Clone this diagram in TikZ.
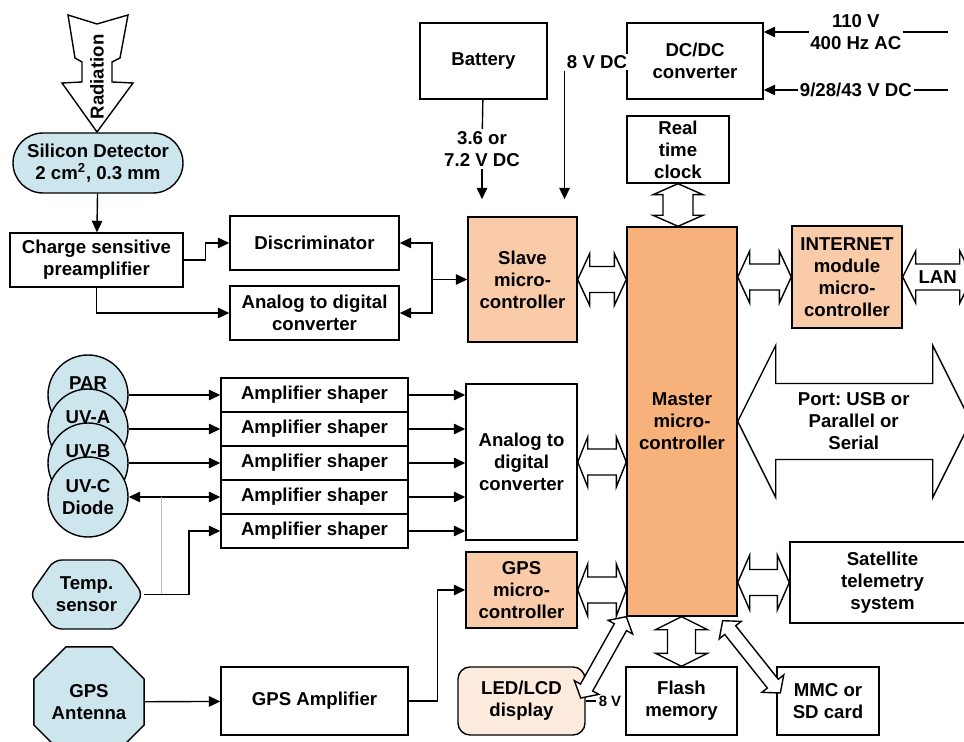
\documentclass[tikz,border=0pt]{standalone}
\usepackage{fontspec}
\setmainfont{Liberation Sans}
\usetikzlibrary{arrows.meta,calc,shapes.geometric,shapes.symbols}
\frenchspacing

\definecolor{diodeblue}{RGB}{205,230,238}
\definecolor{mcuorange}{RGB}{250,203,168}
\definecolor{masterorange}{RGB}{246,178,122}
\definecolor{ledpeach}{RGB}{253,235,222}

\tikzset{
  blk/.style={draw, align=center, inner sep=1pt},
  sz/.style 2 args={minimum width=#1*0.2mm, minimum height=#2*0.2mm},
  sensor/.style={blk, fill=diodeblue},
  mcu/.style={blk, fill=mcuorange},
  fat/.style={draw, fill=white},
}

% hollow double arrow: from, to, shaft half width, head half width, head length
\newcommand\widearrow[5]{%
  \coordinate (wa0) at #1; \coordinate (wa9) at #2;
  \coordinate (wa1) at ($(wa0)!#5!(wa9)$);
  \coordinate (wa8) at ($(wa9)!#5!(wa0)$);
  \draw[fat] (wa0) -- ($(wa1)!#4!90:(wa9)$) -- ($(wa1)!#3!90:(wa9)$)
    -- ($(wa8)!#3!-90:(wa0)$) -- ($(wa8)!#4!-90:(wa0)$) -- (wa9)
    -- ($(wa8)!#4!90:(wa0)$) -- ($(wa8)!#3!90:(wa0)$)
    -- ($(wa1)!#3!-90:(wa9)$) -- ($(wa1)!#4!-90:(wa9)$) -- cycle;}

\begin{document}
\begin{tikzpicture}[x=0.2mm, y=-0.2mm, line width=0.8pt,
    font=\bfseries\fontsize{10.6}{12.5}\selectfont,
    >={Triangle[length=2.3mm,width=2.1mm]}]
\useasboundingbox (0,0) rectangle (964,742);

% radiation input
\draw[fill=white] (68,15) -- (97,24) -- (128,15) -- (120,58) -- (112,62) -- (112,82)
  -- (133,83) -- (97,132) -- (62,83) -- (82,82) -- (82,62) -- (75,58) -- cycle;
\node[rotate=90] (rad) at (97,77) {Radiation};

% detector chain
\node[sensor, sz={170}{60}, rounded corners=6mm] (det) at (98,163) {Silicon Detector\\2 cm\textsuperscript{2}, 0.3 mm};
\node[blk, sz={173}{54}] (pre) at (96.5,260) {Charge sensitive\\preamplifier};
\node[blk, sz={169}{54}] (disc) at (314.5,243) {Discriminator};
\node[blk, sz={169}{54}] (adca) at (314.5,313) {Analog to digital\\converter};

% power
\node[blk, sz={127}{76}] (bat) at (483.5,61) {Battery};
\node[blk, sz={136}{76}] (dcdc) at (695,61) {DC/DC\\converter};
\node[fill=white, inner sep=1pt] (vdc) at (597,62) {8 V DC};
\node[align=center, inner sep=1pt] (vbat) at (482,149) {3.6 or\\7.2 V DC};
\coordinate (ac) at (948,32);
\coordinate (dc) at (948,90);

% controllers and peripherals
\node[blk, sz={102}{67}] (rtc) at (678,149.5) {Real\\time\\clock};
\node[mcu, sz={109}{125}] (slave) at (522.5,279.5) {Slave\\micro-\\controller};
\node[blk, sz={110}{389}, fill=masterorange] (master) at (682,421.5) {Master\\micro-\\controller};
\node[mcu, sz={110}{102}] (inet) at (847,277) {INTERNET\\module\\micro-\\controller};
\node[blk, sz={111}{156}] (adcb) at (521.5,462) {Analog to\\digital\\converter};
\node[mcu, sz={111}{76}] (gpsmcu) at (521.5,590) {GPS\\micro-\\controller};
\node[blk, sz={185}{81}] (sat) at (882.5,582.5) {Satellite\\telemetry\\system};
\node[blk, sz={127}{68}, fill=ledpeach, rounded corners=2.4mm] (led) at (521.5,701) {LED/LCD\\display};
\node[blk, sz={111}{68}] (flash) at (681.5,701) {Flash\\memory};
\node[blk, sz={102}{68}] (mmc) at (828,701) {MMC or\\SD card};

% sensors
\foreach \n/\lbl/\y in {par/PAR/395, uva/UV-A/429, uvb/UV-B/463}
  \node[sensor, circle, sz={80}{80}, label={[yshift=2.4mm]center:\lbl}] (\n) at (88,\y) {};
\node[sensor, circle, sz={80}{80}] (uvc) at (88,497) {UV-C\\Diode};
\node[sensor, signal, signal to=west and east, signal pointer angle=110,
  rounded corners=1.5mm, sz={87}{69}] (temp) at (86.5,594.5) {Temp.\\sensor};
\node[sensor, regular polygon, regular polygon sides=8, minimum size=20mm] (gpsant) at (89,702) {GPS\\Antenna};

\foreach \i in {1,...,5}
  \node[blk, sz={187}{34}] (amp\i) at (314.5,{361+34*\i}) {Amplifier shaper};
\node[blk, sz={187}{68}] (gpsamp) at (314.5,701) {GPS Amplifier};

% signal wires
\draw[->] (det) -- (pre);
\draw[->] (pre.east) -- ++(22,0) |- (disc.west);
\draw[->] (pre.south) |- (adca.west);
\coordinate (sj) at (432,279.5);
\draw[->] (sj) -- (slave.west);
\draw[->] (sj) |- (disc.east);
\draw[->] (sj) |- (adca.east);

\draw (bat) -- (vbat);
\draw[->, shorten >=3.4mm] (vbat.south) -- (vbat.south |- slave.north);
\draw[->, shorten >=3.4mm] (vdc.south west) -- (vdc.south west |- slave.north);
\draw[->] (ac) -- (ac -| dcdc.east) node[midway, fill=white, inner sep=1pt, align=center] {110 V\\400 Hz AC};
\draw[->] (dc) -- (dc -| dcdc.east) node[midway, fill=white, inner sep=1pt] {9/28/43 V DC};

\foreach \n/\i in {par/1, uva/2, uvb/3}
  \draw[->] (\n.east) -- (amp\i.west);
\draw[<->] (uvc.east) -- (amp4.west);
\draw[->] (temp.east) -- ++(45,0) |- (amp5.west);
\coordinate (tj) at ($(temp.east)+(18,0)$);
\draw[gray!50, line width=0.5pt] (tj) -- (tj |- uvc.east);
\foreach \i in {1,...,5}
  \draw[->] (amp\i.east) -- (amp\i.east -| adcb.west);
\draw[->] (gpsant) -- (gpsamp);
\draw[->] (gpsamp.east) -- ++(29,0) |- (gpsmcu.west);

% buses
\widearrow{(rtc.south)}{(rtc.south |- master.north)}{3mm}{5mm}{2.2mm}
\widearrow{(slave.east)}{(slave.east -| master.west)}{2.6mm}{5.2mm}{2.4mm}
\widearrow{(adcb.east)}{(adcb.east -| master.west)}{2.6mm}{5mm}{2mm}
\widearrow{(gpsmcu.east)}{(gpsmcu.east -| master.west)}{2.6mm}{5.2mm}{2mm}
\widearrow{(master.east |- inet.west)}{(inet.west)}{2.6mm}{5.2mm}{2.4mm}
\widearrow{(master.east |- sat.west)}{(sat.west)}{2.6mm}{5.5mm}{2.4mm}
\widearrow{(flash.north |- master.south)}{(flash.north)}{2.8mm}{5.2mm}{2.6mm}
\widearrow{($(led.east)+(-5,-3)$)}{(master.south west)}{1.4mm}{2.8mm}{2.4mm}
\widearrow{($(master.south east)+(-15,4)$)}{($(mmc.west)+(4,-8)$)}{1.4mm}{2.8mm}{2.4mm}
\widearrow{(inet.east)}{($(inet.east)+(70,0)$)}{2.6mm}{5.2mm}{2.6mm}
\node (lan) at ($(inet.east)+(35,0)$) {LAN};
\widearrow{(master.east)}{($(master.east)+(233,0)$)}{7.6mm}{15.2mm}{7.6mm}
\node[align=center] (port) at ($(master.east)+(116,0)$) {Port: USB or\\Parallel or\\Serial};

\node[font=\bfseries\fontsize{8.5}{10}\selectfont, inner sep=1pt] (v8) at (610,701) {8 V};
\draw (led.east) -- (v8.west);
\end{tikzpicture}
\end{document}
